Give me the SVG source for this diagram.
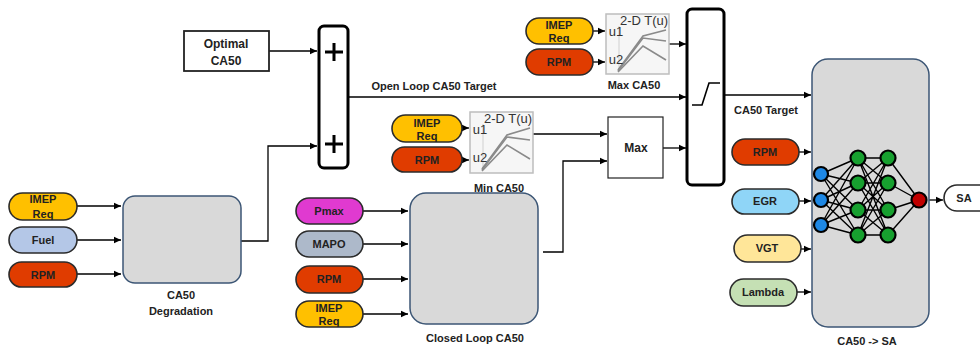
<svg xmlns="http://www.w3.org/2000/svg" width="980" height="348" viewBox="0 0 980 348">
<defs>
<marker id="ah" markerWidth="8" markerHeight="8" refX="7" refY="4" orient="auto" markerUnits="userSpaceOnUse">
<path d="M0,0.8 L7,4 L0,7.2 Z" fill="#000"/>
</marker>
<style>
text{font-family:"Liberation Sans",Arial,sans-serif;font-weight:bold;font-size:11px;fill:#222;text-anchor:middle}
.big{font-size:12px}
.pill{stroke:#2b2b2b;stroke-width:1.6}
.imep{fill:#ffc000}.rpm{fill:#e03c00}.fuel{fill:#b4c7e7}.pmax{fill:#e03ad0}.mapo{fill:#adb9ca}
.egr{fill:#8fd5f7}.vgt{fill:#ffe699}.lam{fill:#c5e0b4}.sa{fill:#fff}
.blk{fill:#d9d9d9;stroke:#3c5675;stroke-width:1.5}
.thick{fill:#fff;stroke:#000;stroke-width:3}
.c{fill:none;stroke:#000;stroke-width:1.3}
.tbl{fill:#f6f6f6;stroke:#bdbdbd;stroke-width:1.5}
.tl{fill:none;stroke:#8a8a8a;stroke-width:1.6}
.tt{font-weight:normal;font-size:13px;fill:#333}
.nn{stroke:#000;stroke-width:2.2}
.nl{stroke:#000;stroke-width:1.4}
</style>
</defs>

<g id="connectors">
<path class="c" d="M269,51 H317" marker-end="url(#ah)"/>
<path class="c" d="M241,241 H268 V146 H317" marker-end="url(#ah)"/>
<path class="c" d="M77,206 H121" marker-end="url(#ah)"/>
<path class="c" d="M77,240 H121" marker-end="url(#ah)"/>
<path class="c" d="M77,274 H121" marker-end="url(#ah)"/>
<path class="c" d="M348,97 H686" marker-end="url(#ah)"/>
<path class="c" d="M593,31 H605" marker-end="url(#ah)"/>
<path class="c" d="M593,62 H605" marker-end="url(#ah)"/>
<path class="c" d="M669,44 H686" marker-end="url(#ah)"/>
<path class="c" d="M462,128 H469" marker-end="url(#ah)"/>
<path class="c" d="M462,160 H469" marker-end="url(#ah)"/>
<path class="c" d="M533,134 H607" marker-end="url(#ah)"/>
<path class="c" d="M543,252 H563 V161 H607" marker-end="url(#ah)"/>
<path class="c" d="M663,148 H686" marker-end="url(#ah)"/>
<path class="c" d="M363,211 H408" marker-end="url(#ah)"/>
<path class="c" d="M363,244 H408" marker-end="url(#ah)"/>
<path class="c" d="M363,279 H408" marker-end="url(#ah)"/>
<path class="c" d="M363,314 H408" marker-end="url(#ah)"/>
<path class="c" d="M724,95 H811" marker-end="url(#ah)"/>
<path class="c" d="M799,152 H811" marker-end="url(#ah)"/>
<path class="c" d="M799,201 H811" marker-end="url(#ah)"/>
<path class="c" d="M801,249 H811" marker-end="url(#ah)"/>
<path class="c" d="M797,292 H811" marker-end="url(#ah)"/>
<path class="c" d="M927,200 H943" marker-end="url(#ah)"/>
</g>

<g id="optimal-ca50">
<rect x="184" y="31" width="85" height="40" fill="#fff" stroke="#222" stroke-width="1.8"/>
<text class="big" x="226" y="48">Optimal</text>
<text class="big" x="226" y="65">CA50</text>
</g>

<g id="sum">
<rect class="thick" x="319" y="26" width="29" height="142" rx="5"/>
<path d="M325,52 H343 M334,43 V61 M325,144 H343 M334,135 V153" stroke="#000" stroke-width="3"/>
</g>
<text x="434" y="90">Open Loop CA50 Target</text>

<g id="max-ca50-table">
<rect class="tbl" x="606" y="14" width="63" height="60"/>
<line x1="619" y1="26" x2="619" y2="70" stroke="#d0d0d0" stroke-width="1"/>
<polyline class="tl" points="618,70 643,36 666,30"/>
<polyline class="tl" points="618,71 643,38 666,41"/>
<polyline class="tl" points="618,72 643,46 666,60"/>
<text class="tt" x="644" y="25">2-D T(u)</text>
<text class="tt" x="616" y="36">u1</text>
<text class="tt" x="616" y="64">u2</text>
<text x="634" y="89">Max CA50</text>
</g>
<g id="max-imep"><rect class="pill imep" x="526" y="18" width="67" height="26" rx="13"/><text x="559" y="29">IMEP</text><text x="559" y="42">Req</text></g>
<g id="max-rpm"><rect class="pill rpm" x="526" y="49" width="67" height="26" rx="13"/><text x="559" y="66">RPM</text></g>

<g id="min-ca50-table">
<rect class="tbl" x="470" y="112" width="63" height="61"/>
<line x1="483" y1="124" x2="483" y2="169" stroke="#d0d0d0" stroke-width="1"/>
<polyline class="tl" points="482,169 507,135 530,128"/>
<polyline class="tl" points="482,170 507,137 530,140"/>
<polyline class="tl" points="482,171 507,145 530,159"/>
<text class="tt" x="508" y="123">2-D T(u)</text>
<text class="tt" x="480" y="134">u1</text>
<text class="tt" x="480" y="162">u2</text>
<text x="499" y="192">Min CA50</text>
</g>
<g id="min-imep"><rect class="pill imep" x="392" y="115" width="70" height="27" rx="13.5"/><text x="427" y="127">IMEP</text><text x="427" y="140">Req</text></g>
<g id="min-rpm"><rect class="pill rpm" x="392" y="147" width="70" height="25" rx="12.5"/><text x="427" y="164">RPM</text></g>

<g id="max">
<rect x="608" y="117" width="55" height="61" fill="#fff" stroke="#222" stroke-width="1.2"/>
<text class="big" x="636" y="152">Max</text>
</g>

<g id="saturation">
<rect class="thick" x="687" y="9" width="37" height="176" rx="5"/>
<polyline points="692,105 702,105 709,83 720,83" fill="none" stroke="#000" stroke-width="1.6"/>
</g>
<text x="766" y="114">CA50 Target</text>

<g id="ca50-degradation">
<rect class="blk" x="123" y="196" width="118" height="87" rx="12"/>
<text x="181" y="299">CA50</text>
<text x="181" y="315">Degradation</text>
</g>
<g id="deg-imep"><rect class="pill imep" x="9" y="193" width="68" height="27" rx="13.5"/><text x="43" y="203">IMEP</text><text x="43" y="218">Req</text></g>
<g id="deg-fuel"><rect class="pill fuel" x="9" y="227" width="68" height="26" rx="13"/><text x="43" y="244">Fuel</text></g>
<g id="deg-rpm"><rect class="pill rpm" x="9" y="262" width="68" height="25" rx="12.5"/><text x="43" y="279">RPM</text></g>

<g id="closed-loop-ca50">
<rect class="blk" x="410" y="193" width="128" height="131" rx="16"/>
<text x="475" y="342">Closed Loop CA50</text>
</g>
<g id="cl-pmax"><rect class="pill pmax" x="296" y="198" width="67" height="26" rx="13"/><text x="329" y="215">Pmax</text></g>
<g id="cl-mapo"><rect class="pill mapo" x="296" y="231" width="67" height="26" rx="13"/><text x="329" y="248">MAPO</text></g>
<g id="cl-rpm"><rect class="pill rpm" x="296" y="266" width="67" height="27" rx="13.5"/><text x="329" y="283">RPM</text></g>
<g id="cl-imep"><rect class="pill imep" x="296" y="301" width="67" height="26" rx="13"/><text x="329" y="312">IMEP</text><text x="329" y="325">Req</text></g>

<g id="ca50-to-sa">
<rect class="blk" x="812" y="59" width="117" height="268" rx="16"/>
<g class="nl">
<path d="M821,174 L858,158 M821,174 L858,183 M821,174 L858,210 M821,174 L858,235 M821,200 L858,158 M821,200 L858,183 M821,200 L858,210 M821,200 L858,235 M821,225 L858,158 M821,225 L858,183 M821,225 L858,210 M821,225 L858,235"/>
<path d="M858,158 L888,158 M858,158 L888,183 M858,158 L888,210 M858,158 L888,235 M858,183 L888,158 M858,183 L888,183 M858,183 L888,210 M858,183 L888,235 M858,210 L888,158 M858,210 L888,183 M858,210 L888,210 M858,210 L888,235 M858,235 L888,158 M858,235 L888,183 M858,235 L888,210 M858,235 L888,235"/>
<path d="M888,158 L919,200 M888,183 L919,200 M888,210 L919,200 M888,235 L919,200"/>
</g>
<g class="nn">
<circle cx="821" cy="174" r="7" fill="#1e88e5"/>
<circle cx="821" cy="200" r="7" fill="#1e88e5"/>
<circle cx="821" cy="225" r="7" fill="#1e88e5"/>
<circle cx="858" cy="158" r="7.5" fill="#17a02f"/>
<circle cx="858" cy="183" r="7.5" fill="#17a02f"/>
<circle cx="858" cy="210" r="7.5" fill="#17a02f"/>
<circle cx="858" cy="235" r="7.5" fill="#17a02f"/>
<circle cx="888" cy="158" r="7.5" fill="#17a02f"/>
<circle cx="888" cy="183" r="7.5" fill="#17a02f"/>
<circle cx="888" cy="210" r="7.5" fill="#17a02f"/>
<circle cx="888" cy="235" r="7.5" fill="#17a02f"/>
<circle cx="919" cy="200" r="7.5" fill="#c00000"/>
</g>
<text x="867" y="345">CA50 -&gt; SA</text>
</g>
<g id="nn-rpm"><rect class="pill rpm" x="732" y="139" width="67" height="26" rx="13"/><text x="765" y="156">RPM</text></g>
<g id="nn-egr"><rect class="pill egr" x="732" y="189" width="67" height="25" rx="12.5"/><text x="765" y="205">EGR</text></g>
<g id="nn-vgt"><rect class="pill vgt" x="734" y="235" width="67" height="27" rx="13.5"/><text x="767" y="252">VGT</text></g>
<g id="nn-lambda"><rect class="pill lam" x="730" y="279" width="67" height="27" rx="13.5"/><text x="763" y="296">Lambda</text></g>
<g id="sa"><rect class="pill sa" x="944" y="185" width="60" height="26" rx="13"/><text x="964" y="202">SA</text></g>
</svg>
